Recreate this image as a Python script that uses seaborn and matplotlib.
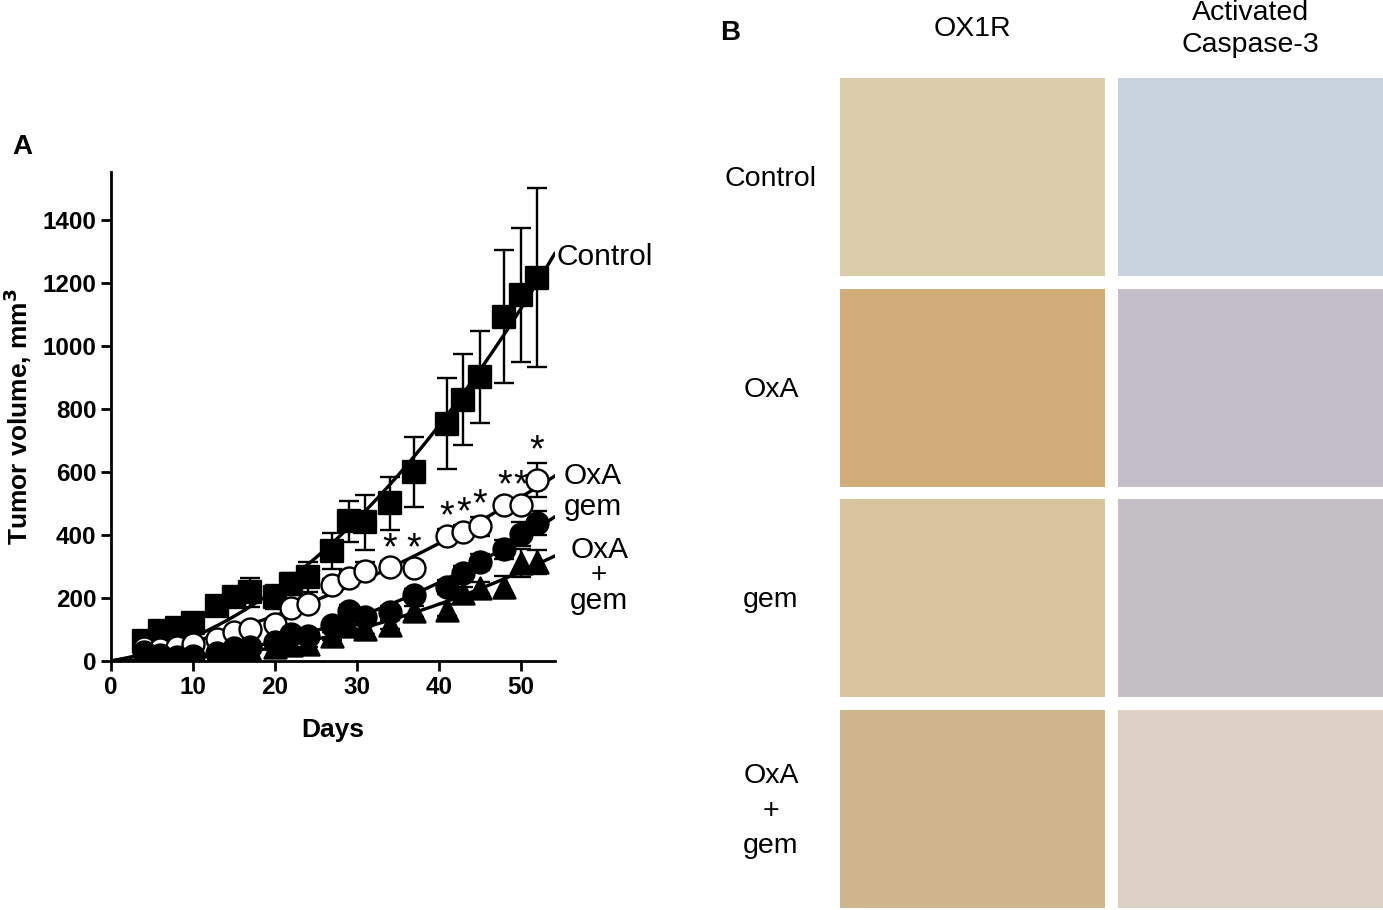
import numpy as np
import pandas as pd
import seaborn as sns
import matplotlib.pyplot as plt

# dados (volume tumoral, mm3)
days = [4, 6, 8, 10, 13, 15, 17, 20, 22, 24, 27, 29, 31, 34, 37, 41, 43, 45, 48, 50, 52]
control = [62, 95, 105, 122, 175, 202, 218, 202, 245, 267, 350, 444, 440, 500, 600,
           753, 829, 901, 1093, 1161, 1217]
control_err = [15, 15, 15, 18, 20, 25, 47, 38, 35, 48, 57, 65, 88, 83, 112,
               145, 145, 146, 210, 212, 283]
oxa = [40, 38, 44, 55, 70, 92, 103, 117, 168, 180, 240, 265, 287, 298, 296,
       398, 410, 427, 495, 495, 575]
oxa_err = [10, 10, 10, 10, 12, 12, 15, 15, 18, 20, 20, 22, 28, 20, 20,
           20, 22, 30, 20, 20, 53]
gem = [30, 20, 12, 15, 25, 40, 45, 60, 85, 80, 114, 160, 140, 155, 210,
       235, 279, 314, 355, 403, 438]
gem_err = [8, 8, 8, 8, 10, 10, 12, 12, 15, 15, 15, 18, 18, 20, 20,
           22, 22, 25, 30, 38, 37]
combo = [25, 15, 10, 10, 20, 30, 35, 45, 50, 55, 80, 110, 100, 115, 158,
         162, 216, 232, 235, 311, 314]
combo_err = [8, 8, 8, 8, 8, 10, 10, 10, 12, 12, 12, 15, 15, 15, 18,
             18, 20, 20, 35, 45, 38]
star_days = [34, 37, 41, 43, 45, 48, 50, 52]

groups = ['Control', 'OxA', 'gem', 'OxA + gem']
row_labels = ['Control', 'OxA', 'gem', 'OxA\n+\ngem']
col_labels = ['OX1R', 'Activated\nCaspase-3']

sns.set_theme(style="white")
plt.rcParams['font.family'] = ['Liberation Sans', 'DejaVu Sans']
plt.rcParams['text.color'] = 'black'
plt.rcParams['axes.labelcolor'] = 'black'

W, H = 1383, 910
fig = plt.figure(figsize=(W / 100, H / 100), dpi=100)


def fx(px):
    return px / W


def fy(py):
    return 1 - py / H


# ---------- painel A ----------
ax = fig.add_axes([fx(111), fy(661), fx(555 - 111), (661 - 172) / H])

series = [
    (control, control_err, 's', 'black'),
    (oxa, oxa_err, 'o', 'white'),
    (gem, gem_err, 'o', 'black'),
    (combo, combo_err, '^', 'black'),
]

frames = []
for name, (vals, errs, mk, fc) in zip(groups, series):
    frames.append(pd.DataFrame({'Dia': days, 'Volume': vals, 'Erro': errs, 'Grupo': name}))
df = pd.concat(frames, ignore_index=True)

# curvas ajustadas (y = a*x + b*x^2, passando pela origem)
xfit = np.linspace(0, 54.2, 200)
fits = []
for name in groups:
    d = df[df['Grupo'] == name]
    x = d['Dia'].to_numpy(float)
    y = d['Volume'].to_numpy(float)
    A = np.column_stack([x, x ** 2])
    coef, *_ = np.linalg.lstsq(A, y, rcond=None)
    fits.append(pd.DataFrame({'Dia': xfit, 'Volume': coef[0] * xfit + coef[1] * xfit ** 2, 'Grupo': name}))
fit_df = pd.concat(fits, ignore_index=True)

sns.lineplot(data=fit_df, x='Dia', y='Volume', units='Grupo', estimator=None,
             color='black', linewidth=2.4, ax=ax, zorder=2, legend=False)

for name, (vals, errs, mk, fc) in zip(groups, series):
    d = df[df['Grupo'] == name]
    ax.errorbar(d['Dia'], d['Volume'], yerr=d['Erro'], fmt='none', ecolor='black',
                elinewidth=1.7, capsize=7.5, capthick=1.7, zorder=3)
    sns.scatterplot(data=d, x='Dia', y='Volume', marker=mk, s=250, color=fc,
                    edgecolor='black', linewidth=1.7, ax=ax, zorder=4, legend=False)

# asteriscos de significância
d_ox = df[df['Grupo'] == 'OxA'].set_index('Dia')
for dd in star_days:
    ax.text(dd, d_ox.loc[dd, 'Volume'] + d_ox.loc[dd, 'Erro'] + 38, '*',
            ha='center', va='center', fontsize=27, color='black')

ax.set_xlim(0, 54.2)
ax.set_ylim(0, 1552)
ax.set_xticks([0, 10, 20, 30, 40, 50])
ax.set_yticks(range(0, 1401, 200))
sns.despine(ax=ax)
for s in ['left', 'bottom']:
    ax.spines[s].set_linewidth(2.0)
    ax.spines[s].set_color('black')
ax.tick_params(direction='out', length=7, width=2.0, colors='black',
               labelsize=17.5, bottom=True, left=True)
for lab in ax.get_xticklabels() + ax.get_yticklabels():
    lab.set_fontweight('bold')
ax.set_xlabel('Days', fontsize=19, fontweight='bold', labelpad=14)
ax.set_ylabel('Tumor volume, mm$^\\mathbf{3}$', fontsize=19, fontweight='bold', labelpad=6)

# rótulos das curvas
ax.text(54.4, 1283, 'Control', fontsize=21.5, va='center', ha='left', clip_on=False)
ax.text(55.3, 588, 'OxA', fontsize=21.5, va='center', ha='left', clip_on=False)
ax.text(55.3, 490, 'gem', fontsize=21.5, va='center', ha='left', clip_on=False)
ax.text(59.6, 352, 'OxA', fontsize=21.5, va='center', ha='center', clip_on=False)
ax.text(59.6, 272, '+', fontsize=20, va='center', ha='center', clip_on=False)
ax.text(59.6, 190, 'gem', fontsize=21.5, va='center', ha='center', clip_on=False)

fig.text(fx(22), fy(147), 'A', fontsize=20, fontweight='bold', ha='center', va='center')

# ---------- painel B (imunohistoquímica, cores médias das imagens) ----------
fig.text(fx(730), fy(33), 'B', fontsize=20, fontweight='bold', ha='center', va='center')
tile_colors = [
    ['#dccdaa', '#c9d2df'],
    ['#d2ac78', '#c2bfcb'],
    ['#d8c49d', '#c4bfc4'],
    ['#d0b68e', '#dcd0c4'],
]
col_x = [(840, 1105), (1118, 1383)]
row_y = [(78, 276), (289, 487), (499, 697), (710, 908)]

for c, (x0, x1) in enumerate(col_x):
    fig.text(fx((x0 + x1) / 2), fy(29), col_labels[c], fontsize=20.5,
             ha='center', va='center', linespacing=1.3)
for r, (y0, y1) in enumerate(row_y):
    fig.text(fx(771), fy((y0 + y1) / 2 + 2), row_labels[r], fontsize=20.5,
             ha='center', va='center', linespacing=1.45)
    for c, (x0, x1) in enumerate(col_x):
        tax = fig.add_axes([fx(x0), fy(y1), fx(x1 - x0), (y1 - y0) / H])
        tax.set_facecolor(tile_colors[r][c])
        tax.set_xticks([])
        tax.set_yticks([])
        for s in tax.spines.values():
            s.set_visible(False)

fig.savefig('out.png', dpi=100)
